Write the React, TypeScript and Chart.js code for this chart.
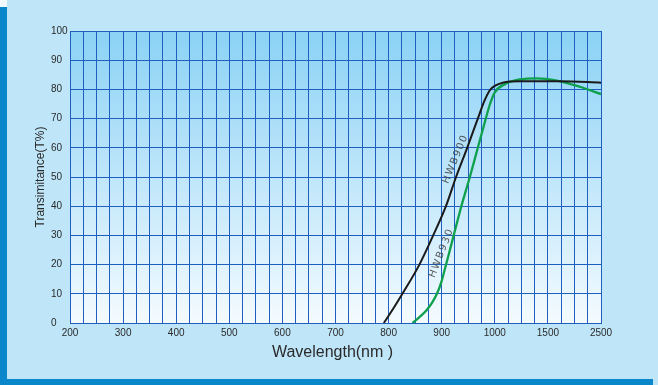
import React, { useEffect, useRef } from 'react';
import { Chart, registerables } from 'chart.js';

Chart.register(...registerables);

// Axis ticks (x axis is piecewise: 100 nm steps to 1000, then 1500, 2500)
const xTickValues = [200, 300, 400, 500, 600, 700, 800, 900, 1000, 1500, 2500];
const xTickLabels = ['200', '300', '400', '500', '600', '700', '800', '900', '1000', '1500', '2500'];
const yTickValues = [0, 10, 20, 30, 40, 50, 60, 70, 80, 90, 100];

// HWB900 (black)
const hwb900Wavelength = [791, 808, 826, 858, 884, 908, 927, 948, 968, 981, 991, 1000, 1075, 1235, 1500, 1730, 2500];
const hwb900Trans = [0, 4.7, 10, 20, 30, 40, 50, 60, 70, 76.3, 79.8, 81.2, 82.3, 82.8, 82.8, 82.8, 82.3];

// HWB930 (green)
const hwb930Wavelength = [845, 858, 871, 882, 891, 899, 906, 914, 922.6, 937, 953, 968, 983, 991, 1000, 1095, 1235, 1395, 1670, 2100, 2500];
const hwb930Trans = [0, 2, 4.3, 7, 10, 13.8, 18.5, 24, 30, 40, 50, 60, 70, 75, 79, 81.8, 83.4, 83.8, 83.0, 80.9, 78.4];

const seriesNames = ['HWB900', 'HWB930'];

function nmToIndex(nm: number): number {
  if (nm <= xTickValues[0]) return 0;
  for (let i = 0; i < xTickValues.length - 1; i++) {
    const a = xTickValues[i];
    const b = xTickValues[i + 1];
    if (nm <= b) return i + (nm - a) / (b - a);
  }
  return xTickValues.length - 1;
}

const GRID = '#1f5fbf';

const decorPlugin = {
  id: 'decor',
  beforeDraw(chart: any) {
    const { ctx, width, height, chartArea } = chart;
    ctx.save();
    ctx.fillStyle = '#bfe6f8';
    ctx.fillRect(0, 0, width, height);
    ctx.fillStyle = '#f2fafe';
    ctx.fillRect(0, 0, 7, 7);
    ctx.fillStyle = '#0a87cb';
    ctx.fillRect(0, 7, 7, 372);
    ctx.fillRect(0, 379, 653, 6);
    const g = ctx.createLinearGradient(0, chartArea.top, 0, chartArea.bottom);
    g.addColorStop(0, '#8bd2f5');
    g.addColorStop(0.5, '#bfe6fa');
    g.addColorStop(1, '#f4fbff');
    ctx.fillStyle = g;
    ctx.fillRect(chartArea.left, chartArea.top, chartArea.right - chartArea.left, chartArea.bottom - chartArea.top);
    ctx.restore();
  },
  afterDraw(chart: any) {
    const { ctx, chartArea } = chart;
    ctx.save();
    // Axis titles
    ctx.fillStyle = '#2a2a2a';
    ctx.font = '16px "Liberation Sans", Arial, sans-serif';
    ctx.textAlign = 'center';
    ctx.textBaseline = 'middle';
    ctx.fillText('Wavelength(nm )', (chartArea.left + chartArea.right) / 2 - 3, 353);
    ctx.save();
    ctx.translate(41, (chartArea.top + chartArea.bottom) / 2);
    ctx.rotate(-Math.PI / 2);
    ctx.font = '12px "Liberation Sans", Arial, sans-serif';
    ctx.fillText('Transimitance(T%)', 0, 0);
    ctx.restore();

    // Curve labels
    const labels = [
      { text: seriesNames[0], x: 455.5, y: 159, angle: -67.5 },
      { text: seriesNames[1], x: 441.5, y: 253, angle: -69 },
    ];
    ctx.font = '10px "DejaVu Sans", sans-serif';
    (ctx as any).letterSpacing = '1.5px';
    ctx.fillStyle = 'rgba(60,60,60,0.85)';
    for (const l of labels) {
      ctx.save();
      ctx.translate(l.x, l.y);
      ctx.rotate((l.angle * Math.PI) / 180);
      ctx.fillText(l.text, 0, 0);
      ctx.restore();
    }
    ctx.restore();
  },
};

export default function App() {
  const ref = useRef<HTMLCanvasElement | null>(null);

  useEffect(() => {
    if (!ref.current) return;
    const chart = new Chart(ref.current, {
      type: 'line',
      data: {
        datasets: [
          {
            label: seriesNames[0],
            data: hwb900Wavelength.map((w, i) => ({ x: nmToIndex(w), y: hwb900Trans[i] })),
            borderColor: '#1a1a1a',
            borderWidth: 2,
            pointRadius: 0,
            cubicInterpolationMode: 'monotone',
            fill: false,
          },
          {
            label: seriesNames[1],
            data: hwb930Wavelength.map((w, i) => ({ x: nmToIndex(w), y: hwb930Trans[i] })),
            borderColor: '#0ea04c',
            borderWidth: 2.3,
            pointRadius: 0,
            cubicInterpolationMode: 'monotone',
            fill: false,
          },
        ],
      },
      options: {
        responsive: false,
        animation: false,
        devicePixelRatio: 1,
        layout: { padding: { left: 51, top: 31, right: 57, bottom: 0 } },
        plugins: { legend: { display: false }, tooltip: { enabled: false } },
        scales: {
          x: {
            type: 'linear',
            min: 0,
            max: xTickValues.length - 1,
            ticks: {
              stepSize: 0.25,
              autoSkip: false,
              maxRotation: 0,
              minRotation: 0,
              padding: 4,
              color: '#2a2a2a',
              font: { family: '"Liberation Sans", Arial, sans-serif', size: 10 },
              callback: (v: any) => (Number.isInteger(v) ? xTickLabels[v] : ''),
            },
            grid: { color: GRID, lineWidth: 1, drawTicks: false },
            border: { color: GRID, width: 1 },
            afterFit: (s: any) => {
              s.height = 62;
            },
          },
          y: {
            min: 0,
            max: 100,
            afterBuildTicks: (s: any) => {
              s.ticks = yTickValues.map((v) => ({ value: v }));
            },
            ticks: {
              crossAlign: 'far',
              padding: 0,
              color: '#2a2a2a',
              font: { family: '"Liberation Sans", Arial, sans-serif', size: 10 },
            },
            grid: { color: GRID, lineWidth: 1, drawTicks: false },
            border: { color: GRID, width: 1 },
            afterFit: (s: any) => {
              s.width = 19;
            },
          },
        },
      },
      plugins: [decorPlugin],
    } as any);
    return () => chart.destroy();
  }, []);

  return (
    <div style={{ position: 'fixed', left: 0, top: 0, width: 658, height: 385 }}>
      <canvas ref={ref} width={658} height={385} style={{ display: 'block' }} />
    </div>
  );
}
